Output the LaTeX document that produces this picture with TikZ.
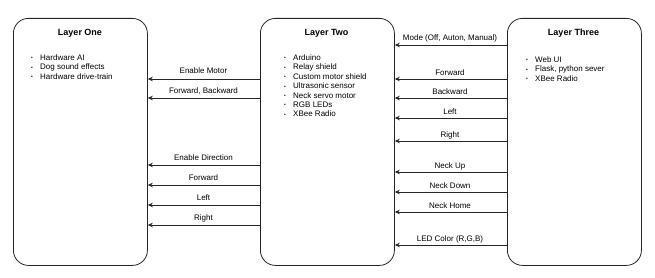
\documentclass[tikz,border=0pt]{standalone}
\usepackage{fontspec}
\setmainfont{Liberation Sans}
\usetikzlibrary{arrows.meta}
\newcommand{\bul}{\makebox[9pt][l]{\raisebox{0.5pt}{\fontsize{5}{5}\selectfont•}}}
\begin{document}
\begin{tikzpicture}[x=1pt,y=-1pt,
  layer/.style={draw=black!85, line width=0.8pt, rounded corners=15pt, fill=white, minimum width=134pt, minimum height=247pt, anchor=north west, inner sep=0pt},
  title/.style={font=\fontsize{9}{11}\selectfont\bfseries, inner sep=0pt},
  list/.style={font=\fontsize{8}{9.4}\selectfont, align=left, anchor=north west, inner sep=0pt},
  arr/.style={draw=black!85, line width=0.8pt, -{Stealth[length=5pt,width=4.5pt]}},
  lbl/.style={font=\fontsize{8}{9.4}\selectfont, inner sep=0pt, anchor=base}]
\useasboundingbox (0,0) rectangle (655,278);
\node[layer] (one) at (13,18) {};
\node[layer] (two) at (260,18) {};
\node[layer] (three) at (507,18) {};
\node[title] (t1) at (80,33) {Layer One};
\node[title] (t2) at (326.5,33) {Layer Two};
\node[title] (t3) at (573.5,33) {Layer Three};
\node[list] (l1) at (31,54.5) {\bul Hardware AI\\\bul Dog sound effects\\\bul Hardware drive-train};
\node[list] (l2) at (284,54.5) {\bul Arduino\\\bul Relay shield\\\bul Custom motor shield\\\bul Ultrasonic sensor\\\bul Neck servo motor\\\bul RGB LEDs\\\bul XBee Radio};
\node[list] (l3) at (526,56.5) {\bul Web UI\\\bul Flask, python sever\\\bul XBee Radio};
% Two -> One
\foreach \y/\t/\n in {79/Enable Motor/a1, 98/{Forward, Backward}/a2, 165/Enable Direction/a3, 185/Forward/a4, 205/Left/a5, 225/Right/a6}{
  \draw[arr] (two.west |- 0,\y) -- (one.east |- 0,\y);
  \node[lbl] (\n) at (203.5,\y-5) {\t};
}
% Three -> Two
\foreach \y/\t/\n in {45/{Mode (Off, Auton, Manual)}/b1, 79/Forward/b2, 98/Backward/b3, 118/Left/b4, 141/Right/b5, 172/Neck Up/b6, 192/Neck Down/b7, 212/Neck Home/b8, 245/{LED Color (R,G,B)}/b9}{
  \draw[arr] (three.west |- 0,\y) -- (two.east |- 0,\y);
  \node[lbl] (\n) at (450,\y-4) {\t};
}
\end{tikzpicture}
\end{document}
